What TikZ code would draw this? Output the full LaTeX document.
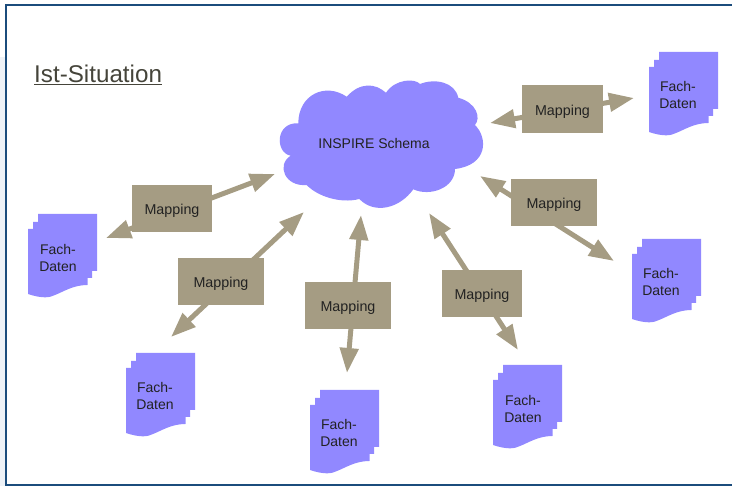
\documentclass[tikz,border=0pt]{standalone}
\usepackage{fontspec}
\setmainfont{Liberation Sans}
\usetikzlibrary{arrows.meta}
\definecolor{tan}{HTML}{A59C83}
\definecolor{lilac}{HTML}{9188FF}
\definecolor{framec}{HTML}{1B4C7C}
\definecolor{outer}{HTML}{EEF2F7}
\definecolor{ink}{HTML}{222222}
\definecolor{titleink}{HTML}{45443A}
\tikzset{
  x=1pt,y=-1pt,
  mapbox/.style={draw=none,fill=tan,minimum height=47pt,inner sep=0pt,text height=12.4pt,text depth=0pt,font=\fontsize{14.3}{16}\selectfont,text=ink},
  link/.style={draw=tan,line width=5pt,{Triangle[length=25pt,width=18pt,fill=tan]}-{Triangle[length=25pt,width=18pt,fill=tan]}},
  doclabel/.style={font=\fontsize{14}{17}\selectfont,text=ink,align=center,inner sep=0pt},
  pics/fachdoc/.style={code={
    \fill[lilac] (10,0) -- (69,0) -- (69,57) -- (64,57) -- (64,64) -- (59.5,64) -- (59.5,71)
      .. controls (45,71) and (35,78) .. (27,81)
      .. controls (22,83.5) and (15,85) .. (0,80) -- (0,15) -- (5,15) -- (5,8) -- (10,8) -- cycle;
  }}
}
\begin{document}
\begin{tikzpicture}
\useasboundingbox (0,0) rectangle (732,486);
\fill[outer] (0,57) rectangle (6,486);
\draw[framec,line width=2pt] (732,5) -- (6,5) -- (6,485) -- (732,485);
\node[anchor=base west,inner sep=0pt,font=\fontsize{24.2}{28}\selectfont,text=titleink] (title) at (34,83) {\underline{Ist-Situation}};

\fill[lilac] (298.3,123.3)
  .. controls (298.3,95) and (325,82) .. (346.7,96.7)
  .. controls (360,82) and (375,83) .. (386,92.7)
  .. controls (395,79) and (415,78) .. (420,84)
  .. controls (435,78) and (455,82) .. (458.3,97.7)
  .. controls (477,103) and (481,118) .. (475,125)
  .. controls (488,138) and (488,165) .. (455,169)
  .. controls (455,188) and (430,197) .. (413.3,189.3)
  .. controls (400,208) and (375,215) .. (359.3,199)
  .. controls (340,204) and (317,196) .. (306.7,185)
  .. controls (285,187) and (276,165) .. (290.7,155.7)
  .. controls (275,153) and (275,122) .. (298.3,123.3) -- cycle;
\node[inner sep=0pt,font=\fontsize{14}{16}\selectfont,text=ink] (cloud) at (374,143.5) {INSPIRE Schema};

\coordinate (a1) at (275,174); \coordinate (b1) at (106,238);
\coordinate (a2) at (304,212); \coordinate (b2) at (171,337);
\coordinate (a3) at (361,215); \coordinate (b3) at (347,373);
\coordinate (a4) at (429,213); \coordinate (b4) at (518,350);
\coordinate (a5) at (480,176); \coordinate (b5) at (614,261);
\coordinate (a6) at (490,123); \coordinate (b6) at (634,98);
\draw[link] (a1) -- (b1);
\draw[link] (a2) -- (b2);
\draw[link] (a3) -- (b3);
\draw[link] (a4) -- (b4);
\draw[link] (a5) -- (b5);
\draw[link] (a6) -- (b6);

\node[mapbox,minimum width=80pt] (m1) at (172,208.5) {Mapping};
\node[mapbox,minimum width=86pt] (m2) at (221,281.5) {Mapping};
\node[mapbox,minimum width=86pt] (m3) at (348,305.5) {Mapping};
\node[mapbox,minimum width=80pt] (m4) at (482,293.5) {Mapping};
\node[mapbox,minimum width=86pt] (m5) at (554,202.5) {Mapping};
\node[mapbox,minimum width=81pt,minimum height=48pt] (m6) at (562.5,109) {Mapping};

\pic at (28,214) {fachdoc};  \node[doclabel] (d1) at (58,258) {Fach-\\Daten};
\pic at (126,353) {fachdoc}; \node[doclabel] (d2) at (155,396) {Fach-\\Daten};
\pic at (310,390) {fachdoc}; \node[doclabel] (d3) at (339,433) {Fach-\\Daten};
\pic at (493,365) {fachdoc}; \node[doclabel] (d4) at (523,409) {Fach-\\Daten};
\pic at (632,239) {fachdoc}; \node[doclabel] (d5) at (661,282) {Fach-\\Daten};
\pic at (649,52) {fachdoc};  \node[doclabel] (d6) at (678,95) {Fach-\\Daten};
\end{tikzpicture}
\end{document}
